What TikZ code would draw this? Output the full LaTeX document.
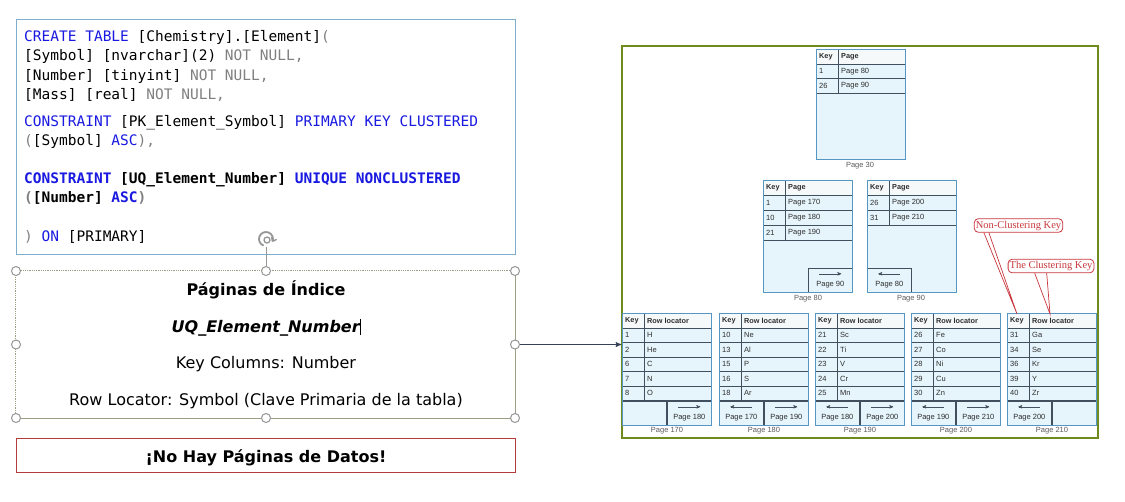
\documentclass[tikz,border=0pt]{standalone}
\usepackage{fontspec}
\setmainfont{DejaVu Sans}
\setmonofont{DejaVu Sans Mono}
\newfontfamily\tabfont{Liberation Sans}
\newfontfamily\notefont{Liberation Serif}
\usetikzlibrary{arrows}

\definecolor{sqlblue}{RGB}{25,25,225}
\definecolor{sqlgray}{RGB}{128,128,128}
\definecolor{sqlbox}{RGB}{125,175,205}
\definecolor{handlegray}{RGB}{150,150,150}
\definecolor{boxolive}{RGB}{155,160,130}
\definecolor{alertred}{RGB}{180,60,60}
\definecolor{arrowslate}{RGB}{55,65,85}
\definecolor{frameolive}{RGB}{110,140,30}
\definecolor{pageblue}{RGB}{85,150,195}
\definecolor{pagefill}{RGB}{230,245,252}
\definecolor{headfill}{RGB}{246,249,250}
\definecolor{gridgray}{RGB}{65,80,95}
\definecolor{celltext}{RGB}{45,45,45}
\definecolor{labelgray}{RGB}{90,90,90}
\definecolor{notered}{RGB}{200,55,60}

% one page of the b-tree: name, left, top, height, second header, rows
\newcommand\bpage[6]{%
  \node[pagebox, minimum height=#4pt, anchor=north west] (#1) at (#2,#3) {};
  \fill[headfill] ({#2+0.5},{#3+0.5}) rectangle ({#2+88.5},{#3+15});
  \node[headtext] (#1-kh) at ({#2+3},{#3+7.5}) {Key};
  \node[headtext] (#1-vh) at ({#2+25},{#3+7.5}) {#5};
  \draw[gridline] ({#2+22},#3) -- ++(0,15);
  \foreach \k/\v [count=\i] in {#6} {
    \draw[gridline] (#2,{#3+15+\rowh*(\i-1)}) -- ++(89,0) ++(-67,0) -- ++(0,\rowh);
    \draw[gridline] (#2,{#3+15+\rowh*\i}) -- ++(89,0);
    \node[celltext] (#1-k\i) at ({#2+3},{#3+15+\rowh*(\i-0.5)}) {\k};
    \node[celltext] (#1-v\i) at ({#2+25},{#3+15+\rowh*(\i-0.5)}) {\v};
  }
  \draw[pageline] (#1.north west) rectangle (#1.south east);
}

% link cell at the foot of a page: name, left, top, arrow, text
\newcommand\navcell[5]{%
  \node[navbox, anchor=north west] (#1) at (#2,#3) {};
  \draw[navarrow, #4] ([shift={(-11pt,6.5pt)}]#1.center) -- ([shift={(11pt,6.5pt)}]#1.center);
  \node[celltext, anchor=center] (#1-t) at ([yshift=-4pt]#1.center) {#5};
}

\begin{document}
\begin{tikzpicture}[x=1pt,y=-1pt,>=stealth',
  sqlline/.style={anchor=base west,inner sep=0pt,font=\ttfamily\fontsize{14.5}{17}\selectfont},
  boxtext/.style={anchor=base,inner sep=0pt,font=\fontsize{16}{19}\selectfont},
  handle/.style={circle,draw=handlegray,fill=white,line width=1pt,minimum size=9pt,inner sep=0pt},
  pagebox/.style={fill=pagefill,minimum width=89pt,inner sep=0pt},
  pageline/.style={draw=pageblue,line width=1pt},
  gridline/.style={draw=gridgray,line width=0.6pt},
  celltext/.style={anchor=west,inner sep=0pt,text=celltext,font=\tabfont\fontsize{7.5}{8}\selectfont},
  headtext/.style={celltext,font=\tabfont\bfseries\fontsize{7.3}{8}\selectfont},
  navbox/.style={draw=gridgray,line width=0.6pt,minimum width=44pt,minimum height=24pt,inner sep=0pt},
  navarrow/.style={draw=gridgray,line width=0.5pt},
  pagelabel/.style={inner sep=0pt,text=labelgray,font=\tabfont\fontsize{7.5}{8}\selectfont},
  callout/.style={draw=notered,fill=white,rounded corners=4pt,line width=0.8pt,text=notered,
    inner xsep=1.5pt,inner ysep=2pt,font=\notefont\fontsize{10.5}{12}\selectfont}]

  \fill[white] (0,0) rectangle (1125,501);
  \useasboundingbox (0,0) rectangle (1125,501);

  % the create table script
  \node[draw=sqlbox,line width=1pt,minimum width=499pt,minimum height=235pt,inner sep=0pt] (sql) at (265.5,137) {};
  \node[sqlline] (l1) at (24,41) {\textcolor{sqlblue}{CREATE TABLE} [Chemistry].[Element]\textcolor{sqlgray}{(}};
  \node[sqlline] (l2) at (24,60.5) {[Symbol] [nvarchar](2) \textcolor{sqlgray}{NOT NULL,}};
  \node[sqlline] (l3) at (24,80) {[Number] [tinyint] \textcolor{sqlgray}{NOT NULL,}};
  \node[sqlline] (l4) at (24,99.5) {[Mass] [real] \textcolor{sqlgray}{NOT NULL,}};
  \node[sqlline] (l5) at (24,126) {\textcolor{sqlblue}{CONSTRAINT} [PK\_Element\_Symbol] \textcolor{sqlblue}{PRIMARY KEY CLUSTERED}};
  \node[sqlline] (l6) at (24,145.5) {\textcolor{sqlgray}{(}[Symbol] \textcolor{sqlblue}{ASC}\textcolor{sqlgray}{),}};
  \node[sqlline] (l7) at (24,183) {\bfseries\textcolor{sqlblue}{CONSTRAINT} [UQ\_Element\_Number] \textcolor{sqlblue}{UNIQUE NONCLUSTERED}};
  \node[sqlline] (l8) at (24,202.5) {\bfseries\textcolor{sqlgray}{(}[Number] \textcolor{sqlblue}{ASC}\textcolor{sqlgray}{)}};
  \node[sqlline] (l9) at (24,241.5) {\textcolor{sqlgray}{)} \textcolor{sqlblue}{ON} [PRIMARY]};

  % selected text box with its handles
  \node[minimum width=499pt,minimum height=147pt,inner sep=0pt] (idx) at (265.5,344.5) {};
  \draw[boxolive,densely dotted,line width=0.8pt] (idx.south west) -- (idx.north west) -- (idx.north east);
  \draw[boxolive,line width=0.8pt] (idx.north east) -- (idx.south east) -- (idx.south west);
  \node[boxtext] (t1) at (266,295.5) {\bfseries Páginas de Índice};
  \node[boxtext] (t2) at (266,332) {\bfseries\itshape UQ\_Element\_Number\rule[-3pt]{0.6pt}{16pt}};
  \node[boxtext] (t3) at (266,368) {Key Columns: Number};
  \node[boxtext] (t4) at (266,405) {Row Locator: Symbol (Clave Primaria de la tabla)};
  \foreach \n/\x/\y in {hnw/16/271,hn/266/271,hne/515/271,hw/16/344.5,he/515/344.5,hsw/16/418,hs/266/418,hse/515/418}
    \node[handle] (\n) at (\x,\y) {};
  \node[circle,minimum size=16pt,inner sep=0pt] (rot) at (266,239) {};
  \draw[handlegray,line width=1.8pt] ([shift={(-20:7pt)}]rot.center) arc (-20:250:7pt);
  \draw[handlegray,line width=1.4pt] ([shift={(-20:7pt)}]rot.center) -- ++(4pt,2pt) ([shift={(-20:7pt)}]rot.center) -- ++(-1pt,4.5pt);
  \draw[handlegray,line width=1.3pt] ([shift={(1pt,-1pt)}]rot.center) circle (3pt);
  \draw[handlegray,line width=0.8pt] (rot) -- (hn);

  \node[draw=alertred,line width=0.8pt,minimum width=499pt,minimum height=34pt,inner sep=0pt] (alert) at (265.5,455.5) {};
  \node[boxtext] (t5) at (266,462) {\bfseries ¡No Hay Páginas de Datos!};

  % b-tree of the nonclustered index
  \node[draw=frameolive,line width=1.5pt,fill=white,minimum width=476pt,minimum height=392pt,inner sep=0pt] (btree) at (860,242) {};
  \draw[->,arrowslate,line width=1pt] (he) -- (he -| btree.west);

  \def\rowh{14.5}
  \bpage{p30}{816}{49}{110}{Page}{1/Page 80,26/Page 90}
  \def\rowh{15}
  \bpage{p80}{763}{180}{112}{Page}{1/Page 170,10/Page 180,21/Page 190}
  \navcell{n80}{808}{268}{->}{Page 90}
  \bpage{p90}{867}{180}{112}{Page}{26/Page 200,31/Page 210}
  \navcell{n90}{867}{268}{<-}{Page 80}

  \def\rowh{14.5}
  \bpage{p170}{622}{313}{112}{Row locator}{1/H,2/He,6/C,7/N,8/O}
  \node[navbox,anchor=north west] (n170a) at (622,401) {};
  \navcell{n170b}{667}{401}{->}{Page 180}
  \bpage{p180}{719}{313}{112}{Row locator}{10/Ne,13/Al,15/P,16/S,18/Ar}
  \navcell{n180a}{719}{401}{<-}{Page 170}
  \navcell{n180b}{764}{401}{->}{Page 190}
  \bpage{p190}{815}{313}{112}{Row locator}{21/Sc,22/Ti,23/V,24/Cr,25/Mn}
  \navcell{n190a}{815}{401}{<-}{Page 180}
  \navcell{n190b}{860}{401}{->}{Page 200}
  \bpage{p200}{911}{313}{112}{Row locator}{26/Fe,27/Co,28/Ni,29/Cu,30/Zn}
  \navcell{n200a}{911}{401}{<-}{Page 190}
  \navcell{n200b}{956}{401}{->}{Page 210}
  \bpage{p210}{1007}{313}{112}{Row locator}{31/Ga,34/Se,36/Kr,39/Y,40/Zr}
  \navcell{n210a}{1007}{401}{<-}{Page 200}
  \node[navbox,anchor=north west] (n210b) at (1052,401) {};
  \foreach \p in {p80,p90,p170,p180,p190,p200,p210}
    \draw[pageline] (\p.north west) rectangle (\p.south east);

  \node[pagelabel] (lb30) at (860,165.5) {Page 30};
  \node[pagelabel] (lb80) at (808,298.5) {Page 80};
  \node[pagelabel] (lb90) at (911,298.5) {Page 90};
  \foreach \p/\x in {170/667,180/764,190/860,200/956,210/1052}
    \node[pagelabel] (lb\p) at (\x,431) {Page \p};

  % callouts
  \node[callout] (nck) at (1018.5,225.5) {Non-Clustering Key};
  \node[callout] (ck) at (1051,266) {The Clustering Key};
  \coordinate (nck-tip) at (1017,314);
  \coordinate (ck-tip) at (1050,314);
  \draw[notered,line width=0.7pt] ([xshift=10pt]nck.south west) -- (nck-tip) -- ([xshift=15pt]nck.south west);
  \draw[notered,line width=0.7pt] ([xshift=27pt]ck.south west) -- (ck-tip) -- ([xshift=39pt]ck.south west);
\end{tikzpicture}
\end{document}
